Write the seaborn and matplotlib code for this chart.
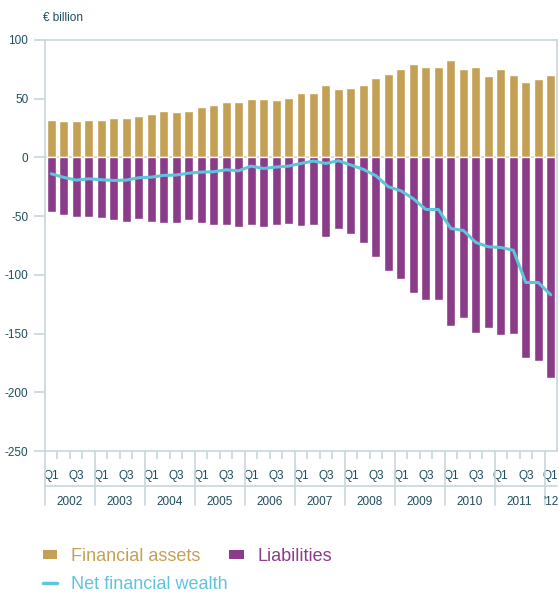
import numpy as np
import pandas as pd
import matplotlib
matplotlib.use("Agg")
import matplotlib.pyplot as plt
from matplotlib.patches import Patch
from matplotlib.lines import Line2D
import matplotlib.transforms as mtransforms
import seaborn as sns

years = [2002, 2003, 2004, 2005, 2006, 2007, 2008, 2009, 2010, 2011, 2012]
year_labels = ["2002", "2003", "2004", "2005", "2006", "2007", "2008", "2009", "2010", "2011", "'12"]
quarters = [f"{y}Q{q}" for y in years[:-1] for q in (1, 2, 3, 4)] + ["2012Q1"]

assets = [32, 31, 31, 32, 32, 33.5, 33.5, 35, 37, 39.5, 38.6, 39.5,
          43, 44.6, 47, 47, 50, 50, 49, 50.6, 54.8, 54.8, 61.6, 58.2,
          59.1, 61.6, 67.6, 71, 75.3, 79.5, 77, 77, 83, 75.3, 77, 69.3,
          75.3, 70.2, 64.2, 66.8, 70.2]
liabilities = [-46.3, -48.9, -50.6, -50.6, -51.4, -53.1, -54.8, -52.3, -54.8, -55.7, -55.7, -53.1,
               -55.7, -57.4, -57.4, -59.1, -57.4, -59.1, -57.4, -56.5, -58.2, -57.4, -67.6, -60.8,
               -65, -72.7, -84.7, -96.6, -103.4, -115.3, -121.3, -121.3, -143.5, -136.6, -149.4, -145.2,
               -151.1, -150.3, -170.7, -173.3, -187.8]
net_wealth = [-13.9, -17, -19.3, -18.2, -19, -19.6, -19.3, -17.3, -16.8, -15.3, -15, -13.4,
              -12.5, -12.2, -10.5, -11.4, -7.4, -9.4, -8.2, -7.4, -5.1, -3.1, -5.1, -2.8,
              -6.5, -10.2, -15.6, -25, -28.4, -35.2, -44.3, -44.3, -60.5, -62.2, -72.4, -76.1,
              -76.7, -79, -106.5, -106.5, -117]
yticks = [100, 50, 0, -50, -100, -150, -200, -250]

C_ASSET = "#c4a054"
C_LIAB = "#8b3c89"
C_NET = "#5ec4de"
C_SPINE = "#c8d6db"
C_TEXT = "#1d4e5c"

sns.set_style("white")
plt.rcParams["font.family"] = ["Liberation Sans", "DejaVu Sans"]
plt.rcParams["axes.unicode_minus"] = False

df = pd.DataFrame({"quarter": quarters, "assets": assets,
                   "liabilities": liabilities, "net": net_wealth})
df["pos"] = np.arange(len(df))

fig = plt.figure(figsize=(5.59, 5.92), dpi=100)
ax = fig.add_axes([45 / 559, 1 - 451 / 592, 512 / 559, 411 / 592])

ax.axhline(0, color="#d8d8d8", lw=1.5, zorder=0)
sns.barplot(data=df, x="quarter", y="assets", order=quarters, color=C_ASSET,
            width=0.72, saturation=1, ax=ax, zorder=2)
sns.barplot(data=df, x="quarter", y="liabilities", order=quarters, color=C_LIAB,
            width=0.72, saturation=1, ax=ax, zorder=2)
sns.lineplot(data=df, x="pos", y="net", color=C_NET, lw=2.2, ax=ax, zorder=3)

n = len(quarters)
ax.set_xlim(-0.5, n - 0.5)
ax.set_ylim(-250, 100)
ax.set_xlabel("")
ax.set_ylabel("")

for s in ax.spines.values():
    s.set_color(C_SPINE)
    s.set_linewidth(1.2)

ax.set_yticks(yticks)
ax.set_yticklabels([str(v) for v in yticks])
ax.tick_params(axis="y", direction="out", length=8, width=1.2, color=C_SPINE,
               labelsize=8.5, labelcolor=C_TEXT, pad=4, left=True)

# x: quarter labels at bar centres, small ticks at quarter boundaries
qlab = []
for i, q in enumerate(quarters):
    qn = q[-2:]
    qlab.append(qn if qn in ("Q1", "Q3") else "")
ax.set_xticks(np.arange(n))
ax.set_xticklabels(qlab)
ax.tick_params(axis="x", which="major", length=0, labelsize=8.5, labelcolor=C_TEXT, pad=14)
minor = [i + 0.5 for i in range(n - 1) if (i + 1) % 4 != 0]
ax.set_xticks(minor, minor=True)
ax.tick_params(axis="x", which="minor", direction="out", length=6, width=1.2,
               color=C_SPINE, bottom=True)

trans = mtransforms.blended_transform_factory(ax.transData, ax.transAxes)
ax.plot([-0.5, n - 0.5], [-0.084, -0.084], transform=trans, color=C_SPINE,
        lw=1.2, clip_on=False)
for k in range(len(years)):
    xb = -0.5 + 4 * k
    ax.plot([xb, xb], [0, -0.131], transform=trans, color=C_SPINE, lw=1.2, clip_on=False)
    start = xb
    end = min(xb + 4, n - 0.5)
    ax.text((start + end) / 2, -0.123, year_labels[k], transform=trans,
            ha="center", va="center", fontsize=8.5, color=C_TEXT)

fig.text(43 / 559, 1 - 18 / 592, "€ billion", ha="left", va="center",
         fontsize=8.5, color=C_TEXT)

h_assets = Patch(facecolor=C_ASSET, edgecolor="none", label="Financial assets")
h_liab = Patch(facecolor=C_LIAB, edgecolor="none", label="Liabilities")
h_net = Line2D([0], [0], color=C_NET, lw=2.5, label="Net financial wealth")
common = dict(loc="upper left", frameon=False, fontsize=13,
              handlelength=0.8, handleheight=0.45, handletextpad=0.75,
              columnspacing=1.6, borderpad=0, borderaxespad=0)
fig.legend(handles=[h_assets, h_liab], bbox_to_anchor=(43 / 559, 1 - 548 / 592),
           ncol=2, labelcolor=[C_ASSET, C_LIAB], **common)
fig.legend(handles=[h_net], bbox_to_anchor=(43 / 559, 1 - 576 / 592),
           ncol=1, labelcolor=[C_NET], **common)

fig.savefig("out.png", dpi=100)
